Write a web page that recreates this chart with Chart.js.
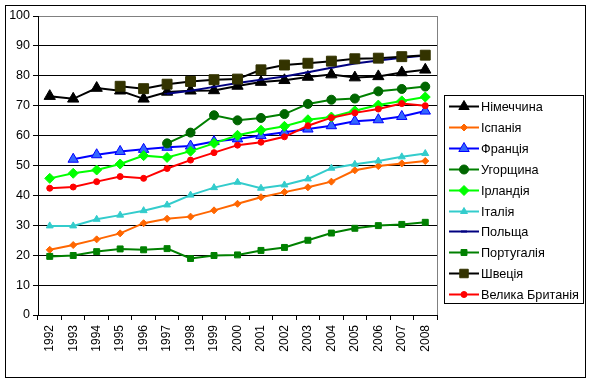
<!DOCTYPE html>
<html>
<head>
<meta charset="utf-8">
<script src="https://cdn.jsdelivr.net/npm/chart.js@4/dist/chart.umd.min.js"></script>
<style>
html,body{margin:0;padding:0;background:#fff;}
canvas{display:block;}
</style>
</head>
<body>
<canvas id="c" width="591" height="382"></canvas>
<script>
const years = ['1992','1993','1994','1995','1996','1997','1998','1999','2000','2001','2002','2003','2004','2005','2006','2007','2008'];
const yTicks = [0,10,20,30,40,50,60,70,80,90,100];

const germany  = [73.2,72.3,75.9,75.0,72.3,74.6,75.0,75.1,76.6,77.9,78.5,79.6,80.4,79.4,79.8,81.1,82.0];
const spain    = [21.8,23.4,25.3,27.3,30.7,32.2,32.9,35.0,37.2,39.4,41.1,42.7,44.6,48.4,49.8,50.7,51.5];
const france   = [null,52.1,53.6,54.7,55.4,56.1,56.5,58.0,58.9,60.0,61.1,62.2,63.3,64.8,65.3,66.4,68.2];
const hungary  = [null,null,null,null,null,57.4,61.0,66.8,65.1,65.9,67.2,70.6,72.0,72.4,74.8,75.6,76.4];
const ireland  = [45.7,47.4,48.5,50.5,53.3,52.7,54.8,57.4,60.1,61.8,63.1,65.3,66.2,68.3,70.2,71.6,72.9];
const italy    = [29.8,29.8,32.0,33.4,34.9,36.8,40.1,42.6,44.4,42.4,43.5,45.5,49.1,50.4,51.5,52.9,54.0];
const poland   = [null,null,null,null,null,74.0,75.0,76.3,77.6,78.7,79.8,81.2,82.7,84.1,85.1,86.0,86.8];
const portugal = [19.6,19.9,21.2,22.1,21.8,22.2,18.9,19.9,20.1,21.6,22.6,25.0,27.4,29.0,29.9,30.3,31.0];
const sweden   = [null,null,null,76.5,75.7,77.2,78.1,78.7,78.9,82.0,83.6,84.2,84.9,85.7,85.9,86.4,86.9];
const uk       = [42.4,42.8,44.6,46.3,45.7,49.0,51.8,54.3,56.8,57.8,59.6,63.3,66.0,67.6,68.9,70.7,70.0];

const names = ['Німеччина','Іспанія','Франція','Угорщина','Ірландія','Італія','Польща','Португалія','Швеція','Велика Британія'];
const seriesData = [germany,spain,france,hungary,ireland,italy,poland,portugal,sweden,uk];
const lineColors = ['#000000','#FF6600','#0000FF','#008000','#00FF00','#33CCCC','#000080','#008000','#000000','#FF0000'];
const markFill   = ['#000000','#FF6600','#3366FF','#006600','#00FF00','#33CCCC','#000080','#008000','#333300','#FF0000'];
const markBorder = ['#000000','#FF6600','#0000FF','#006600','#00FF00','#33CCCC','#000080','#008000','#333300','#FF0000'];
const markStyle  = ['triangle','rectRot','triangle','circle','rectRot','triangle','line','rect','rect','circle'];
const markRadius = [6.5,3.5,6,4.5,5,4,3,4.2,7,3];

const datasets = names.map((n,i)=>({
  label:n,
  data:seriesData[i],
  borderColor:lineColors[i],
  backgroundColor:markFill[i],
  borderWidth:2,
  tension:0,
  pointStyle:markStyle[i],
  pointRadius:markRadius[i],
  pointBackgroundColor:markFill[i],
  pointBorderColor:markBorder[i],
  pointBorderWidth:1,
  order:10-i
}));

function drawMarker(ctx, style, x, y, r, fill, stroke){
  ctx.save();
  ctx.fillStyle = fill; ctx.strokeStyle = stroke; ctx.lineWidth = 1;
  ctx.beginPath();
  if(style==='triangle'){
    ctx.moveTo(x, y - r);
    ctx.lineTo(x + r*0.866, y + r*0.5);
    ctx.lineTo(x - r*0.866, y + r*0.5);
    ctx.closePath();
  } else if(style==='rectRot'){
    ctx.moveTo(x, y-r); ctx.lineTo(x+r, y); ctx.lineTo(x, y+r); ctx.lineTo(x-r, y); ctx.closePath();
  } else if(style==='rect'){
    const s = r*Math.SQRT1_2; ctx.rect(x-s, y-s, 2*s, 2*s);
  } else if(style==='circle'){
    ctx.arc(x, y, r, 0, Math.PI*2);
  } else if(style==='line'){
    ctx.moveTo(x-r, y); ctx.lineTo(x+r, y);
    ctx.lineWidth = 2; ctx.stroke(); ctx.restore(); return;
  }
  ctx.fill(); ctx.stroke();
  ctx.restore();
}

const decor = {
  id:'decor',
  beforeDraw(chart){
    const ctx = chart.ctx;
    ctx.save(); ctx.fillStyle='#fff'; ctx.fillRect(0,0,chart.width,chart.height); ctx.restore();
  },
  afterDraw(chart){
    const ctx = chart.ctx, a = chart.chartArea;
    ctx.save();
    ctx.strokeStyle = '#808080'; ctx.lineWidth = 1;
    ctx.beginPath(); ctx.moveTo(Math.round(a.right)+0.5, a.top); ctx.lineTo(Math.round(a.right)+0.5, a.bottom); ctx.stroke();
    ctx.strokeStyle = '#000';
    ctx.strokeRect(5.5, 5.5, 580, 372);
    ctx.strokeRect(444.5, 95.5, 139, 208);
    ctx.font = '12.7px "Liberation Sans", Arial, sans-serif';
    ctx.textBaseline = 'middle'; ctx.textAlign = 'left'; ctx.fillStyle = '#000';
    for(let i=0;i<names.length;i++){
      const y = Math.round(106 + i*20.9) + 0.5;
      ctx.strokeStyle = lineColors[i]; ctx.lineWidth = 2;
      ctx.beginPath(); ctx.moveTo(449, y); ctx.lineTo(479, y); ctx.stroke();
      drawMarker(ctx, markStyle[i], 464, y, Math.min(markRadius[i], 6), markFill[i], markBorder[i]);
      ctx.fillStyle = '#000';
      ctx.fillText(names[i], 481, y+1);
    }
    ctx.restore();
  }
};

new Chart(document.getElementById('c'), {
  type:'line',
  data:{labels:years, datasets},
  options:{
    responsive:false,
    animation:false,
    devicePixelRatio:1,
    layout:{padding:{left:0,top:16,right:154,bottom:0}},
    plugins:{legend:{display:false}, tooltip:{enabled:false}},
    scales:{
      x:{
        offset:true,
        grid:{offset:true, drawOnChartArea:false, drawTicks:true, tickLength:5, color:'#000', tickColor:'#000'},
        border:{color:'#000', width:1},
        ticks:{minRotation:90, maxRotation:90, autoSkip:false, padding:5, color:'#000', font:{size:12, family:'"Liberation Sans", Arial, sans-serif'}},
        afterFit(s){ s.height = 67; }
      },
      y:{
        min:0, max:100,
        afterBuildTicks(s){ s.ticks = yTicks.map(v=>({value:v})); },
        grid:{color:(c)=> (c.tick && c.tick.value===100) ? '#808080' : '#000', tickColor:'#000', tickLength:5, lineWidth:1},
        border:{color:'#000', width:1},
        ticks:{padding:3, color:'#000', font:{size:12.5, family:'"Liberation Sans", Arial, sans-serif'}},
        afterFit(s){ s.width = 38; }
      }
    }
  },
  plugins:[decor]
});
</script>
</body>
</html>
